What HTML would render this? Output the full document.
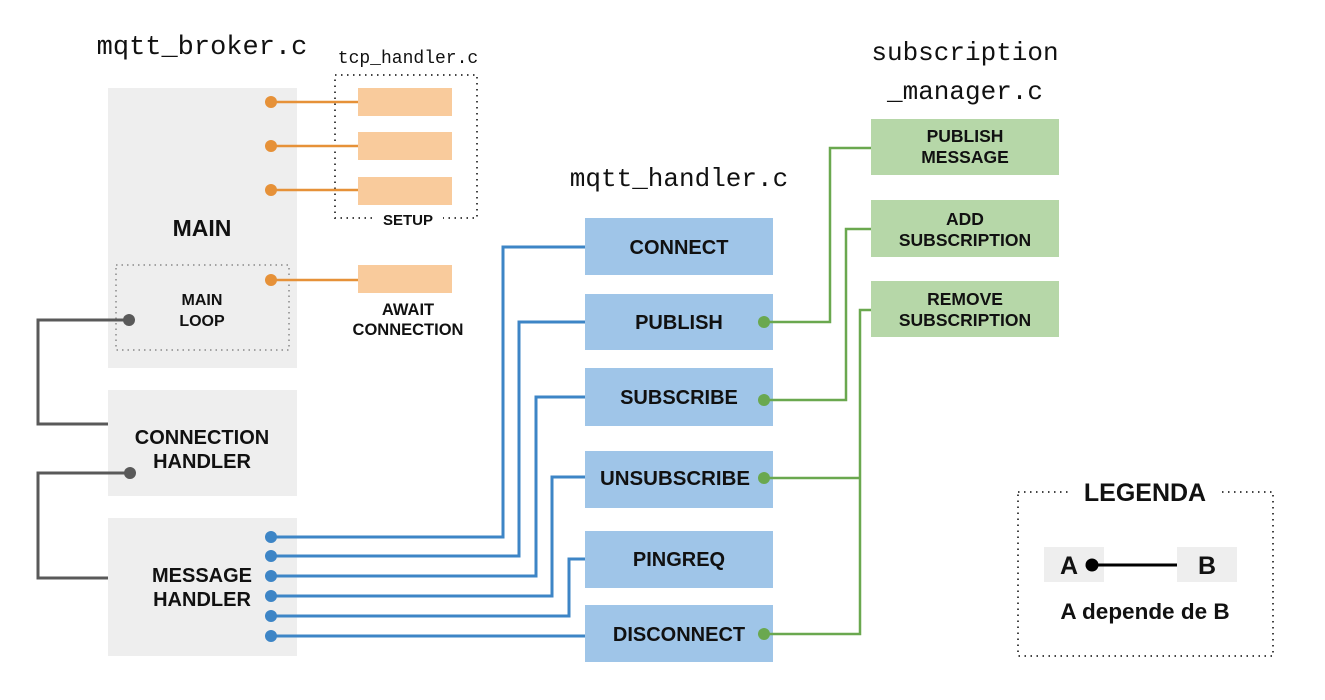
<!DOCTYPE html>
<html><head><meta charset="utf-8"><style>
html,body{margin:0;padding:0;background:#fff;width:1325px;height:700px;overflow:hidden}
svg text{font-family:"Liberation Sans",sans-serif;font-weight:bold;fill:#111}
svg text.m{font-family:"Liberation Mono",monospace;font-weight:normal}
</style></head><body>
<svg width="1325" height="700" viewBox="0 0 1325 700" xmlns="http://www.w3.org/2000/svg">
<text class="m" x="202" y="54" font-size="27" text-anchor="middle">mqtt_broker.c</text>
<text class="m" x="408" y="63" font-size="18" text-anchor="middle">tcp_handler.c</text>
<text class="m" x="965" y="60" font-size="26" text-anchor="middle">subscription</text>
<text class="m" x="965" y="99" font-size="26" text-anchor="middle">_manager.c</text>
<text class="m" x="679" y="186" font-size="26" text-anchor="middle">mqtt_handler.c</text>

<rect x="108" y="88" width="189" height="280" fill="#eeeeee"/>
<rect x="116" y="265" width="173" height="85" fill="none" stroke="#888" stroke-width="1.5" stroke-dasharray="1.5,4"/>
<rect x="108" y="390" width="189" height="106" fill="#eeeeee"/>
<rect x="108" y="518" width="189" height="138" fill="#eeeeee"/>
<text x="202" y="236" font-size="23" text-anchor="middle">MAIN</text>
<text x="202" y="305" font-size="16" text-anchor="middle">MAIN</text>
<text x="202" y="326" font-size="16" text-anchor="middle">LOOP</text>
<text x="202" y="444" font-size="20" text-anchor="middle">CONNECTION</text>
<text x="202" y="468" font-size="20" text-anchor="middle">HANDLER</text>
<text x="202" y="582" font-size="20" text-anchor="middle">MESSAGE</text>
<text x="202" y="606" font-size="20" text-anchor="middle">HANDLER</text>

<rect x="335" y="75" width="142" height="143" fill="none" stroke="#444" stroke-width="2" stroke-dasharray="1.5,4.5"/>
<rect x="373" y="208" width="70" height="20" fill="#fff"/>
<text x="408" y="225" font-size="15" text-anchor="middle">SETUP</text>
<g fill="#f9cb9c">
<rect x="358" y="88" width="94" height="28"/><rect x="358" y="132" width="94" height="28"/>
<rect x="358" y="177" width="94" height="28"/><rect x="358" y="265" width="94" height="28"/>
</g>
<text x="408" y="315" font-size="16.5" text-anchor="middle">AWAIT</text>
<text x="408" y="335" font-size="16.5" text-anchor="middle">CONNECTION</text>
<g stroke="#e69138" stroke-width="2.5">
<line x1="271" y1="102" x2="358" y2="102"/><line x1="271" y1="146" x2="358" y2="146"/>
<line x1="271" y1="190" x2="358" y2="190"/><line x1="271" y1="280" x2="358" y2="280"/>
</g>
<g fill="#e69138"><circle cx="271" cy="102" r="6"/><circle cx="271" cy="146" r="6"/><circle cx="271" cy="190" r="6"/><circle cx="271" cy="280" r="6"/></g>

<g stroke="#595959" stroke-width="3" fill="none">
<polyline points="129,320 38,320 38,424 108,424"/>
<polyline points="130,473 38,473 38,578 108,578"/>
</g>
<circle cx="129" cy="320" r="6" fill="#595959"/><circle cx="130" cy="473" r="6" fill="#595959"/>

<g fill="#9fc5e8">
<rect x="585" y="218" width="188" height="57"/><rect x="585" y="294" width="188" height="56"/>
<rect x="585" y="368" width="188" height="58"/><rect x="585" y="451" width="188" height="57"/>
<rect x="585" y="531" width="188" height="57"/><rect x="585" y="605" width="188" height="57"/>
</g>
<g font-size="20" text-anchor="middle">
<text x="679" y="254">CONNECT</text><text x="679" y="329">PUBLISH</text>
<text x="679" y="404">SUBSCRIBE</text><text x="675" y="485" textLength="150" lengthAdjust="spacingAndGlyphs">UNSUBSCRIBE</text>
<text x="679" y="566">PINGREQ</text><text x="679" y="641">DISCONNECT</text>
</g>
<g stroke="#3d85c6" stroke-width="3" fill="none">
<polyline points="271,537 503,537 503,247 585,247"/>
<polyline points="271,556 519,556 519,322 585,322"/>
<polyline points="271,576 536,576 536,397 585,397"/>
<polyline points="271,596 552,596 552,477 585,477"/>
<polyline points="271,616 569,616 569,559 585,559"/>
<polyline points="271,636 585,636"/>
</g>
<g fill="#3d85c6">
<circle cx="271" cy="537" r="6"/><circle cx="271" cy="556" r="6"/><circle cx="271" cy="576" r="6"/>
<circle cx="271" cy="596" r="6"/><circle cx="271" cy="616" r="6"/><circle cx="271" cy="636" r="6"/>
</g>

<g fill="#b6d7a8">
<rect x="871" y="119" width="188" height="56"/><rect x="871" y="200" width="188" height="57"/>
<rect x="871" y="281" width="188" height="56"/>
</g>
<g font-size="17.5" text-anchor="middle">
<text x="965" y="142">PUBLISH</text><text x="965" y="163">MESSAGE</text>
<text x="965" y="225">ADD</text><text x="965" y="246">SUBSCRIPTION</text>
<text x="965" y="305">REMOVE</text><text x="965" y="326">SUBSCRIPTION</text>
</g>
<g stroke="#6aa84f" stroke-width="2.5" fill="none">
<polyline points="764,322 830,322 830,148 871,148"/>
<polyline points="764,400 846,400 846,229 871,229"/>
<polyline points="764,478 860,478"/>
<polyline points="764,634 860,634 860,310 871,310"/>
</g>
<g fill="#6aa84f">
<circle cx="764" cy="322" r="6"/><circle cx="764" cy="400" r="6"/><circle cx="764" cy="478" r="6"/><circle cx="764" cy="634" r="6"/>
</g>

<rect x="1018" y="492" width="255" height="164" fill="none" stroke="#444" stroke-width="2" stroke-dasharray="1.5,4.5"/>
<rect x="1070" y="476" width="150" height="30" fill="#fff"/>
<text x="1145" y="501" font-size="25" text-anchor="middle">LEGENDA</text>
<rect x="1044" y="547" width="60" height="35" fill="#eeeeee"/>
<rect x="1177" y="547" width="60" height="35" fill="#eeeeee"/>
<text x="1069" y="574" font-size="25" text-anchor="middle">A</text>
<text x="1207" y="574" font-size="25" text-anchor="middle">B</text>
<line x1="1092" y1="565" x2="1177" y2="565" stroke="#000" stroke-width="3"/>
<circle cx="1092" cy="565" r="6.5" fill="#000"/>
<text x="1145" y="619" font-size="22.5" text-anchor="middle">A depende de B</text>
</svg>
</body></html>
